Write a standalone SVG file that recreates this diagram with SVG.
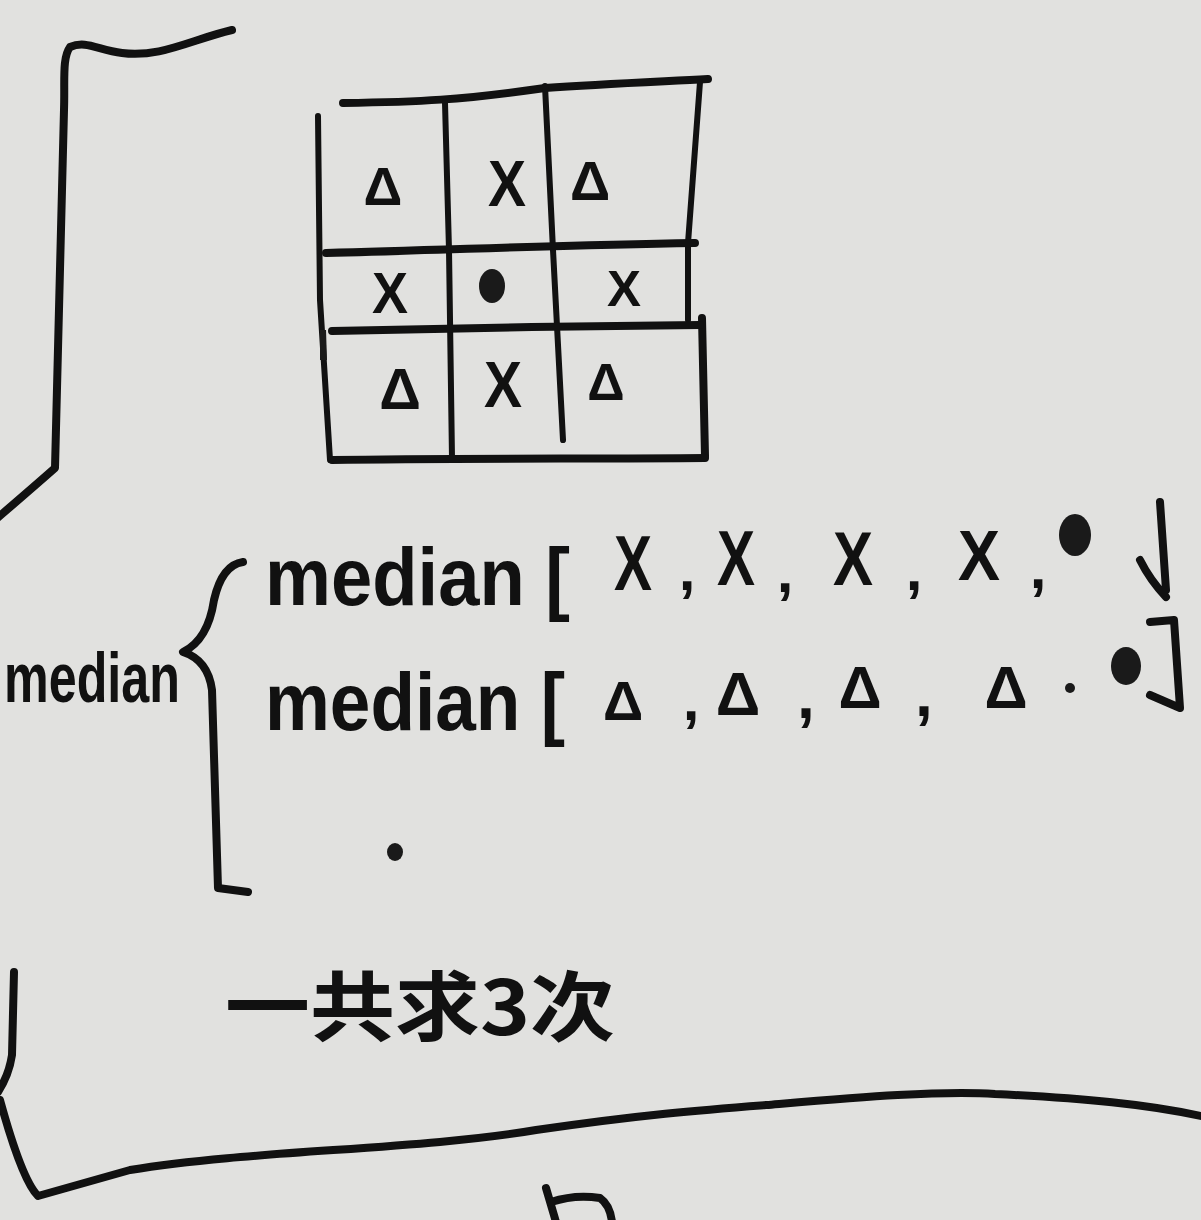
<svg xmlns="http://www.w3.org/2000/svg" width="1201" height="1220" viewBox="0 0 1201 1220">
<style>
.ink{fill:none;stroke:#111;stroke-width:8;stroke-linecap:round;stroke-linejoin:round}
.thin{fill:none;stroke:#111;stroke-width:6;stroke-linecap:round;stroke-linejoin:round}
.hw{font-family:"Liberation Sans","DejaVu Sans",sans-serif;font-weight:bold;fill:#111}
.cjk{font-family:"Noto Sans CJK SC","Noto Sans CJK JP",sans-serif;font-weight:bold;fill:#111}
.dot{fill:#1a1a1a}
</style>
<rect x="0" y="0" width="1201" height="1220" fill="#e1e1df"/>
<g id="frame">
<path class="ink" d="M232,30 C190,40 160,58 122,53 C98,50 86,40 70,47 C62,58 65,80 64,110 L55,468 Q30,490 -5,520"/>
<path class="ink" d="M14,972 L12,1055 Q9,1075 -2,1092"/>
<path class="ink" d="M0,1100 Q22,1180 38,1196 L130,1170 C250,1150 420,1150 536,1130 C640,1115 700,1110 766,1105 C850,1098 940,1090 995,1094 C1080,1098 1150,1104 1210,1118"/>
<path class="ink" d="M546,1188 L556,1222 M551,1202 Q575,1194 600,1198 Q610,1205 612,1222"/>
</g>
<g id="grid">
<path class="ink" d="M343,103 C420,102 460,100 545,88 C600,84 650,82 708,79"/>
<path class="thin" d="M318,116 L320,300 L330,460"/>
<path class="thin" d="M445,103 L449,250 L452,458"/>
<path class="thin" d="M545,86 L553,250 L563,440"/>
<path class="thin" d="M700,82 L688,243 L688,320"/>
<path class="ink" d="M702,318 L705,456"/>
<path class="ink" d="M326,253 C450,250 560,245 695,243"/>
<path class="ink" d="M332,331 C450,328 580,326 700,325"/>
<path class="ink" d="M332,460 C450,458 600,459 705,458"/>
<path class="dot" d="M320,330 L326,330 L327,360 L320,360 Z"/>
</g>
<g id="cells">
<text class="hw" x="383" y="205" font-size="54" text-anchor="middle">Δ</text>
<text class="hw" x="507" y="206" font-size="64" text-anchor="middle" textLength="38" lengthAdjust="spacingAndGlyphs">X</text>
<text class="hw" x="590" y="200" font-size="56" text-anchor="middle">Δ</text>
<text class="hw" x="390" y="313" font-size="58" text-anchor="middle" textLength="36" lengthAdjust="spacingAndGlyphs">X</text>
<ellipse class="dot" cx="492" cy="286" rx="13" ry="17"/>
<text class="hw" x="624" y="306" font-size="50" text-anchor="middle" textLength="34" lengthAdjust="spacingAndGlyphs">X</text>
<text class="hw" x="400" y="409" font-size="58" text-anchor="middle">Δ</text>
<text class="hw" x="503" y="407" font-size="64" text-anchor="middle" textLength="38" lengthAdjust="spacingAndGlyphs">X</text>
<text class="hw" x="606" y="400" font-size="52" text-anchor="middle">Δ</text>
</g>
<g id="row1">
<text class="hw" x="265" y="605" font-size="82" textLength="305" lengthAdjust="spacingAndGlyphs">median [</text>
<text class="hw" x="633" y="590" font-size="78" text-anchor="middle" textLength="38" lengthAdjust="spacingAndGlyphs">X</text>
<text class="hw" x="687" y="590" font-size="60" text-anchor="middle">,</text>
<text class="hw" x="736" y="585" font-size="78" text-anchor="middle" textLength="38" lengthAdjust="spacingAndGlyphs">X</text>
<text class="hw" x="785" y="592" font-size="60" text-anchor="middle">,</text>
<text class="hw" x="853" y="585" font-size="76" text-anchor="middle" textLength="40" lengthAdjust="spacingAndGlyphs">X</text>
<text class="hw" x="914" y="590" font-size="60" text-anchor="middle">,</text>
<text class="hw" x="979" y="580" font-size="70" text-anchor="middle" textLength="42" lengthAdjust="spacingAndGlyphs">X</text>
<text class="hw" x="1038" y="588" font-size="60" text-anchor="middle">,</text>
<ellipse class="dot" cx="1075" cy="535" rx="16" ry="21"/>
<path class="ink" d="M1160,502 L1166,590 M1140,560 Q1150,580 1166,597"/>
</g>
<g id="row2">
<text class="hw" x="265" y="730" font-size="82" textLength="300" lengthAdjust="spacingAndGlyphs">median [</text>
<text class="hw" x="623" y="720" font-size="56" text-anchor="middle">Δ</text>
<text class="hw" x="691" y="720" font-size="60" text-anchor="middle">,</text>
<text class="hw" x="738" y="715" font-size="62" text-anchor="middle">Δ</text>
<text class="hw" x="806" y="718" font-size="64" text-anchor="middle">,</text>
<text class="hw" x="860" y="708" font-size="60" text-anchor="middle">Δ</text>
<text class="hw" x="924" y="716" font-size="64" text-anchor="middle">,</text>
<text class="hw" x="1006" y="708" font-size="60" text-anchor="middle">Δ</text>
<circle class="dot" cx="1070" cy="688" r="5"/>
<ellipse class="dot" cx="1126" cy="666" rx="15" ry="19"/>
<path class="ink" d="M1150,622 L1174,620 L1180,708 L1150,695"/>
</g>
<g id="outer">
<text class="hw" x="4" y="702" font-size="70" textLength="176" lengthAdjust="spacingAndGlyphs">median</text>
<path class="ink" d="M243,562 Q222,565 214,600 Q208,640 183,652 Q208,660 212,690 L218,888 L248,892"/>
<ellipse class="dot" cx="395" cy="852" rx="8" ry="9"/>
</g>
<g id="note">
<text class="cjk" x="225" y="1035" font-size="76" textLength="390" lengthAdjust="spacingAndGlyphs">一共求3次</text>
</g>
</svg>
